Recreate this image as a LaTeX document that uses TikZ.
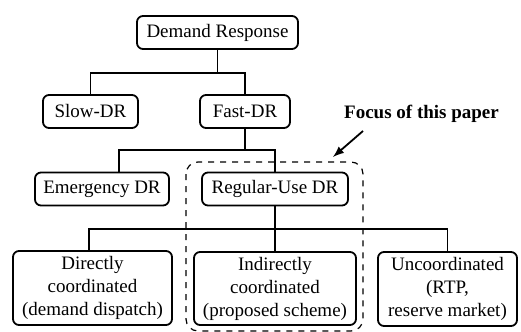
\documentclass[tikz,border=0pt]{standalone}
\usepackage{fontspec}
\setmainfont{Liberation Serif}
\usepackage{tikz}

\begin{document}
\begin{tikzpicture}[x=0.5pt, y=-0.5pt,
		box/.style={draw, line width=0.9pt, rounded corners=3pt, align=center,
				font=\fontsize{9.5pt}{11.5pt}\selectfont, inner sep=0pt},
		link/.style={line width=0.8pt}]
				      \useasboundingbox (0, 0) rectangle (521, 332);
				      \node[box, minimum width=80.5pt, minimum height=16.5pt] (dr) at (217.5, 32.5) {Demand Response};
				      \node[box, minimum width=47.5pt, minimum height=16.5pt] (slow) at (90.5, 111.5) {Slow-DR};
				      \node[box, minimum width=45pt, minimum height=16.5pt] (fast) at (245, 111.5) {Fast-DR};
				      \node[box, minimum width=67pt, minimum height=16.5pt] (emerg) at (102, 189) {Emergency DR};
				      \node[box, minimum width=73pt, minimum height=16.5pt] (reg) at (275, 189) {Regular-Use DR};
				      \node[box, minimum width=79.5pt, minimum height=37pt] (direct) at (92.5, 288) {Directly\\coordinated\\(demand dispatch)};
				      \node[box, minimum width=81pt, minimum height=36.5pt] (indirect) at (275, 288.5) {Indirectly\\coordinated\\(proposed scheme)};
				      \node[box, minimum width=69.5pt, minimum height=37pt] (uncoord) at (447.5, 289) {Uncoordinated\\(RTP,\\reserve market)};
				      \node[font=\fontsize{9.5pt}{11.5pt}\selectfont\bfseries] (focus) at (421.5, 114) {Focus of this paper};
				      \draw[dashed, line width=0.6pt, rounded corners=6pt] (186, 162) rectangle (363, 331);
				      \coordinate (j1) at (217.5, 73);
				      \coordinate (j2) at (245, 150);
				      \coordinate (j3) at (275, 229);
				      \coordinate (tail) at (363, 131);
				      \coordinate (tip) at (333, 157);
				      \draw[link] (dr.south) -- (j1);
				      \draw[link] (slow.north) |- (j1) -| (fast.north);
				      \draw[link] (fast.south) -- (j2);
				      \draw[link] (emerg.north) ++(17, 0) |- (j2) -| (reg.north);
				      \draw[link] (reg.south) -- (j3);
				      \draw[link] (direct.north) ++(-3.5, 0) |- (j3) -| (uncoord.north);
				      \draw[link] (j3) -- (indirect.north);
				      \draw[->, >=latex, line width=0.9pt] (tail) -- (tip);
			      \end{tikzpicture}
\end{document}
